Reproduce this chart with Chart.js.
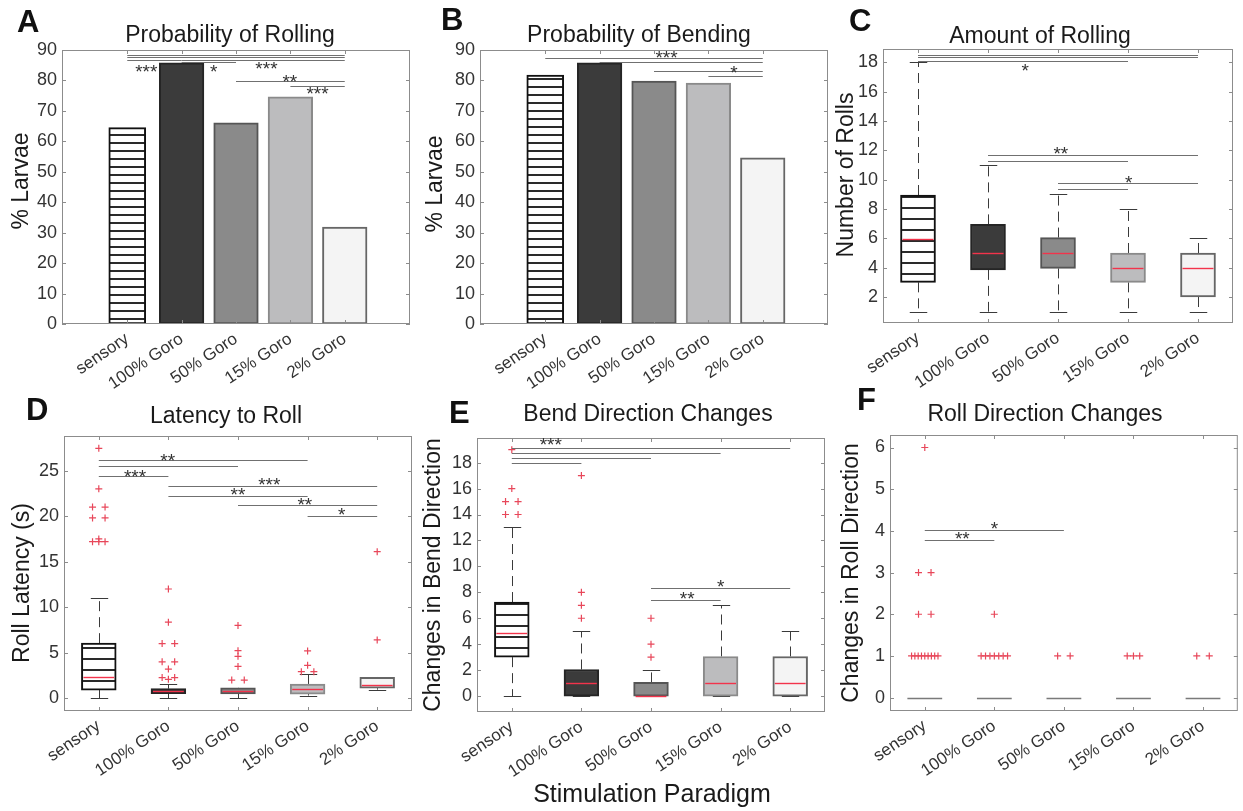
<!DOCTYPE html>
<html>
<head>
<meta charset="utf-8">
<script src="https://cdn.jsdelivr.net/npm/chart.js@4"></script>
<style>
  html, body { margin: 0; padding: 0; background: #fff; }
  #fig { position: relative; width: 1243px; height: 811px; overflow: hidden; background: #fff; }
  #fig canvas { position: absolute; }
</style>
</head>
<body>
<div id="fig"></div>
<script>
const categories = ['sensory', '100% Goro', '50% Goro', '15% Goro', '2% Goro'];

// A / B: % larvae
const rollProb = [64.5, 85.8, 66.1, 74.6, 31.8];
const bendProb = [81.8, 85.8, 79.8, 79.1, 54.6];
const pctTicks = [0, 10, 20, 30, 40, 50, 60, 70, 80, 90];

// C: number of rolls (lower whisker, q1, median, q3, upper whisker)
const rollsLow = [1, 1, 1, 1, 1];
const rollsQ1 = [3, 3.85, 3.95, 3, 2];
const rollsMed = [5.95, 5, 5, 4, 4];
const rollsQ3 = [8.95, 6.95, 6.05, 5, 5];
const rollsHigh = [18, 11, 9, 8, 6];
const rollsOut = [[], [], [], [], []];
const rollsTicks = [2, 4, 6, 8, 10, 12, 14, 16, 18];

// D: roll latency (s)
const latLow = [0, 0, 0, 0.3, 0.95];
const latQ1 = [0.9, 0.5, 0.47, 0.45, 1.1];
const latMed = [2.35, 0.8, 0.8, 1.0, 1.45];
const latQ3 = [6.05, 1.05, 1.15, 1.57, 2.3];
const latHigh = [11, 1.57, 1.17, 2.65, 2.3];
const latOut = [
  [27.45, 23, 21, 21, 19.8, 19.8, 17.5, 17.2, 17.2, 17.2],
  [12, 8.35, 6, 6, 4, 4, 3.2, 2.27, 2.27, 2.08],
  [8, 5.23, 4.6, 3.5, 2, 2],
  [5.2, 3.62, 2.92, 2.92],
  [16.1, 6.4]
];
const latTicks = [0, 5, 10, 15, 20, 25];

// E: changes in bend direction
const bendLow = [0, 0, 0, 0, 0];
const bendQ1 = [3, 0, 0, 0, 0];
const bendMed = [4.9, 1, 0, 1, 1];
const bendQ3 = [7.25, 2.05, 1.05, 3.05, 3.05];
const bendHigh = [13, 5, 2, 7, 5];
const bendOut = [[19, 16, 15, 15, 14, 14], [17, 8, 7, 6], [6, 4, 3], [], []];
const bendTicks = [0, 2, 4, 6, 8, 10, 12, 14, 16, 18];

// F: changes in roll direction
const rdLow = [0, 0, 0, 0, 0];
const rdQ1 = [0, 0, 0, 0, 0];
const rdMed = [0, 0, 0, 0, 0];
const rdQ3 = [0, 0, 0, 0, 0];
const rdHigh = [0, 0, 0, 0, 0];
const rdOut = [
  [6, 3, 3, 2, 2, 1, 1, 1, 1, 1, 1, 1, 1, 1],
  [2, 1, 1, 1, 1, 1, 1, 1],
  [1, 1],
  [1, 1, 1],
  [1, 1]
];
const rdTicks = [0, 1, 2, 3, 4, 5, 6];

// significance brackets: [group a, group b, level]; labels: [x (group units), level, text]
const rollProbSig = [[1, 5, 88.4], [1, 5, 87.7], [1, 2, 86.7], [2, 5, 86.7], [2, 3, 86.1], [3, 5, 79.8], [4, 5, 78.2]];
const rollProbStars = [[1.35, 84.2, '***'], [2.59, 84.4, '*'], [3.56, 85.4, '***'], [3.99, 81.1, '**'], [4.5, 77.2, '***']];
const bendProbSig = [[1, 5, 87.5], [2, 5, 86.0], [3, 5, 83.1], [4, 5, 81.5]];
const bendProbStars = [[3.23, 89.0, '***'], [4.47, 84.0, '*']];
const rollsSig = [[1, 5, 18.5], [1, 5, 18.35], [1, 4, 18.1], [2, 5, 11.67], [2, 4, 11.26], [3, 5, 9.74], [3, 4, 9.33]];
const rollsStars = [[2.53, 17.75, '*'], [3.04, 12.05, '**'], [4.01, 10.1, '*']];
const latSig = [[1, 4, 26.17], [1, 3, 25.5], [1, 2, 24.4], [2, 5, 23.35], [2, 4, 22.26], [3, 5, 21.2], [4, 5, 20.0]];
const latStars = [[1.99, 26.6, '**'], [1.52, 24.85, '***'], [3.45, 24.0, '***'], [3.0, 22.9, '**'], [3.96, 21.8, '**'], [4.49, 20.6, '*']];
const bendSig = [[1, 5, 19.13], [1, 4, 18.75], [1, 3, 18.36], [1, 2, 17.95], [3, 5, 8.33], [3, 4, 7.4]];
const bendStars = [[1.56, 19.75, '***'], [3.52, 7.85, '**'], [4.0, 8.75, '*']];
const rdSig = [[1, 3, 4.02], [1, 2, 3.78]];
const rdStars = [[2.0, 4.17, '*'], [1.54, 3.92, '**']];

const FONT = '"Liberation Sans", Arial, Helvetica, sans-serif';
const fills = [null, '#3b3b3b', '#8a8a8a', '#bcbcbe', '#f4f4f4'];
const edges = ['#111111', '#252525', '#555555', '#8a8a8a', '#666666'];

function hatch(step) {
  const c = document.createElement('canvas');
  c.width = 4; c.height = step;
  const g = c.getContext('2d');
  g.fillStyle = '#ffffff';
  g.fillRect(0, 0, 4, step);
  g.fillStyle = '#2a2a2a';
  g.fillRect(0, step - 2, 4, 2);
  return g.createPattern(c, 'repeat');
}

// spread identical outliers sideways a little, like the original figure
function jitter(vals) {
  const counts = {};
  vals.forEach((v) => { counts[v] = (counts[v] || 0) + 1; });
  const seen = {};
  return vals.map((v) => {
    const n = counts[v];
    const k = seen[v] || 0;
    seen[v] = k + 1;
    if (n === 1) return 0;
    const hw = n <= 3 ? 0.09 : 0.19;
    return -hw + (2 * hw * k) / (n - 1);
  });
}

const panels = [
  { id: 'A', canvas: [0, 0, 440, 400], plot: [62, 50, 410, 324], xr: [-0.2, 6.2], yr: [0, 90], yTicks: pctTicks,
    values: rollProb, hatchStep: 8, sig: rollProbSig, stars: rollProbStars,
    title: 'Probability of Rolling', titleAt: [230, 42], letterAt: [17, 32], yLabel: '% Larvae', yLabelAt: [22, 181] },
  { id: 'B', canvas: [420, 0, 420, 400], plot: [480, 50, 828, 324], xr: [-0.2, 6.2], yr: [0, 90], yTicks: pctTicks,
    values: bendProb, hatchStep: 8, sig: bendProbSig, stars: bendProbStars,
    title: 'Probability of Bending', titleAt: [639, 42], letterAt: [441, 30], yLabel: '% Larvae', yLabelAt: [436, 184] },
  { id: 'C', canvas: [830, 0, 413, 400], plot: [883, 49, 1233, 323], xr: [0.5, 5.5], yr: [0.23, 18.9], yTicks: rollsTicks,
    box: { low: rollsLow, q1: rollsQ1, med: rollsMed, q3: rollsQ3, high: rollsHigh, out: rollsOut }, hatchStep: 11,
    sig: rollsSig, stars: rollsStars,
    title: 'Amount of Rolling', titleAt: [1040, 43], letterAt: [849, 31], yLabel: 'Number of Rolls', yLabelAt: [847, 175] },
  { id: 'D', canvas: [0, 385, 440, 426], plot: [64, 436, 412, 711], xr: [0.5, 5.5], yr: [-1.4, 28.8], yTicks: latTicks,
    box: { low: latLow, q1: latQ1, med: latMed, q3: latQ3, high: latHigh, out: latOut }, hatchStep: 11,
    sig: latSig, stars: latStars,
    title: 'Latency to Roll', titleAt: [226, 423], letterAt: [26, 420], yLabel: 'Roll Latency (s)', yLabelAt: [23, 583] },
  { id: 'E', canvas: [415, 385, 425, 426], plot: [477, 438, 825, 712], xr: [0.5, 5.5], yr: [-1.23, 19.9], yTicks: bendTicks,
    box: { low: bendLow, q1: bendQ1, med: bendMed, q3: bendQ3, high: bendHigh, out: bendOut }, hatchStep: 11,
    sig: bendSig, stars: bendStars,
    title: 'Bend Direction Changes', titleAt: [648, 421], letterAt: [449, 423], yLabel: 'Changes in Bend Direction', yLabelAt: [434, 575],
    xLabel: 'Stimulation Paradigm', xLabelAt: [652, 802] },
  { id: 'F', canvas: [830, 385, 413, 426], plot: [890, 435, 1238, 711], xr: [0.5, 5.5], yr: [-0.32, 6.3], yTicks: rdTicks,
    box: { low: rdLow, q1: rdQ1, med: rdMed, q3: rdQ3, high: rdHigh, out: rdOut }, hatchStep: 11,
    sig: rdSig, stars: rdStars,
    title: 'Roll Direction Changes', titleAt: [1045, 421], letterAt: [857, 410], yLabel: 'Changes in Roll Direction', yLabelAt: [852, 573] }
];

function seg(ctx, x1, y1, x2, y2) {
  ctx.beginPath();
  ctx.moveTo(x1, y1);
  ctx.lineTo(x2, y2);
  ctx.stroke();
}

function makeDecor(p) {
  const ox = p.canvas[0];
  const oy = p.canvas[1];
  return {
    id: 'decor' + p.id,
    beforeDatasetsDraw(chart) {
      if (!p.box) return;
      const { ctx } = chart;
      const { x, y } = chart.scales;
      const b = p.box;
      const cap = x.getPixelForValue(1.125) - x.getPixelForValue(1);
      ctx.save();
      ctx.strokeStyle = '#3a3a3a';
      ctx.lineWidth = 1;
      categories.forEach((c, i) => {
        if (b.q1[i] === b.q3[i]) return;
        const cx = Math.round(x.getPixelForValue(i + 1)) + 0.5;
        [[b.q3[i], b.high[i]], [b.q1[i], b.low[i]]].forEach(([from, to]) => {
          ctx.setLineDash([10, 6]);
          seg(ctx, cx, y.getPixelForValue(from), cx, y.getPixelForValue(to));
          ctx.setLineDash([]);
          const yy = Math.round(y.getPixelForValue(to)) + 0.5;
          seg(ctx, cx - cap, yy, cx + cap, yy);
        });
      });
      ctx.restore();
    },
    afterDatasetsDraw(chart) {
      const { ctx, chartArea: a } = chart;
      const { x, y } = chart.scales;
      ctx.save();
      if (p.box) {
        const b = p.box;
        const half = x.getPixelForValue(1.25) - x.getPixelForValue(1);
        categories.forEach((c, i) => {
          const cx = x.getPixelForValue(i + 1);
          const ym = Math.round(y.getPixelForValue(b.med[i])) + 0.5;
          if (b.q1[i] === b.q3[i]) {
            ctx.strokeStyle = '#7a7a7a';
            ctx.lineWidth = 1.5;
            seg(ctx, cx - half, ym, cx + half, ym);
          } else {
            ctx.strokeStyle = '#f2334b';
            ctx.lineWidth = 1.4;
            seg(ctx, cx - half + 2, ym, cx + half - 2, ym);
          }
        });
      }
      // axes box with inward ticks
      ctx.strokeStyle = '#8c8c8c';
      ctx.lineWidth = 1;
      ctx.strokeRect(a.left + 0.5, a.top + 0.5, a.right - a.left - 1, a.bottom - a.top - 1);
      x.ticks.forEach((t) => {
        const px = Math.round(x.getPixelForValue(t.value)) + 0.5;
        seg(ctx, px, a.bottom, px, a.bottom - 4);
        seg(ctx, px, a.top, px, a.top + 4);
      });
      y.ticks.forEach((t) => {
        const py = Math.round(y.getPixelForValue(t.value)) + 0.5;
        seg(ctx, a.left, py, a.left + 4, py);
        seg(ctx, a.right, py, a.right - 4, py);
      });
      // significance brackets
      ctx.strokeStyle = '#707070';
      p.sig.forEach(([g1, g2, lv]) => {
        const yy = Math.round(y.getPixelForValue(lv)) + 0.5;
        seg(ctx, x.getPixelForValue(g1), yy, x.getPixelForValue(g2), yy);
      });
      ctx.fillStyle = '#333';
      ctx.font = `19px ${FONT}`;
      ctx.textAlign = 'center';
      ctx.textBaseline = 'alphabetic';
      p.stars.forEach(([gx, lv, txt]) => {
        ctx.fillText(txt, x.getPixelForValue(gx), y.getPixelForValue(lv) + 0.57 * 19);
      });
      ctx.restore();
    },
    afterDraw(chart) {
      const { ctx } = chart;
      ctx.save();
      ctx.textBaseline = 'alphabetic';
      ctx.fillStyle = '#111';
      ctx.font = `bold 31px ${FONT}`;
      ctx.textAlign = 'left';
      ctx.fillText(p.id, p.letterAt[0] - ox, p.letterAt[1] - oy);
      ctx.fillStyle = '#1a1a1a';
      ctx.font = `23px ${FONT}`;
      ctx.textAlign = 'center';
      ctx.fillText(p.title, p.titleAt[0] - ox, p.titleAt[1] - oy);
      ctx.save();
      ctx.translate(p.yLabelAt[0] - ox, p.yLabelAt[1] - oy);
      ctx.rotate(-Math.PI / 2);
      ctx.textBaseline = 'middle';
      ctx.fillText(p.yLabel, 0, 0);
      ctx.restore();
      if (p.xLabel) {
        ctx.font = `25px ${FONT}`;
        ctx.fillText(p.xLabel, p.xLabelAt[0] - ox, p.xLabelAt[1] - oy);
      }
      ctx.restore();
    }
  };
}

const fig = document.getElementById('fig');

panels.forEach((p) => {
  const [cl, ct, cw, ch] = p.canvas;
  const cv = document.createElement('canvas');
  cv.width = cw;
  cv.height = ch;
  cv.style.left = cl + 'px';
  cv.style.top = ct + 'px';
  cv.style.width = cw + 'px';
  cv.style.height = ch + 'px';
  fig.appendChild(cv);

  const unit = (p.plot[2] - p.plot[0]) / (p.xr[1] - p.xr[0]);
  const fillAt = (i) => (i === 0 ? hatch(p.hatchStep) : fills[i]);
  let datasets;
  if (p.values) {
    datasets = [
      { type: 'bar', data: [{ x: 1, y: p.values[0] }], backgroundColor: fillAt(0), borderColor: edges[0],
        borderWidth: 2, borderSkipped: false, barThickness: unit * 0.68, grouped: false },
      { type: 'bar', data: p.values.slice(1).map((v, i) => ({ x: i + 2, y: v })),
        backgroundColor: fills.slice(1), borderColor: edges.slice(1),
        borderWidth: 2, borderSkipped: false, barThickness: unit * 0.82, grouped: false }
    ];
  } else {
    const b = p.box;
    const boxData = [];
    const bg = [];
    const bd = [];
    b.q1.forEach((q, i) => {
      if (q === b.q3[i]) return;
      boxData.push({ x: i + 1, y: [q, b.q3[i]] });
      bg.push(fillAt(i));
      bd.push(edges[i]);
    });
    const outData = [];
    b.out.forEach((vals, i) => {
      const j = jitter(vals);
      vals.forEach((v, k) => outData.push({ x: i + 1 + j[k], y: v }));
    });
    datasets = [
      { type: 'bar', data: boxData, backgroundColor: bg, borderColor: bd, borderWidth: 2,
        borderSkipped: false, barThickness: unit * 0.5, grouped: false },
      { type: 'scatter', data: outData, pointStyle: 'cross', pointRadius: 3.5,
        borderColor: '#e8475a', pointBorderColor: '#e8475a', pointBorderWidth: 1.2, showLine: false }
    ];
  }

  new Chart(cv, {
    type: 'bar',
    data: { datasets },
    options: {
      responsive: false,
      animation: false,
      devicePixelRatio: 1,
      layout: { padding: { left: 0, top: p.plot[1] - ct, right: cl + cw - p.plot[2], bottom: 0 } },
      plugins: { legend: { display: false }, tooltip: { enabled: false } },
      scales: {
        x: {
          type: 'linear', min: p.xr[0], max: p.xr[1], offset: false,
          grid: { display: false, drawTicks: false }, border: { display: false },
          afterBuildTicks: (s) => { s.ticks = categories.map((c, i) => ({ value: i + 1 })); },
          afterFit: (s) => { s.height = ct + ch - p.plot[3]; },
          ticks: { autoSkip: false, minRotation: 34, maxRotation: 34, padding: 5, color: '#333',
            font: { family: FONT, size: 17 }, callback: (v, i) => categories[i] }
        },
        y: {
          type: 'linear', min: p.yr[0], max: p.yr[1],
          grid: { display: false, drawTicks: false }, border: { display: false },
          afterBuildTicks: (s) => { s.ticks = p.yTicks.map((v) => ({ value: v })); },
          afterFit: (s) => { s.width = p.plot[0] - cl; },
          ticks: { padding: 5, color: '#333', font: { family: FONT, size: 18 } }
        }
      }
    },
    plugins: [makeDecor(p)]
  });
});
</script>
</body>
</html>
